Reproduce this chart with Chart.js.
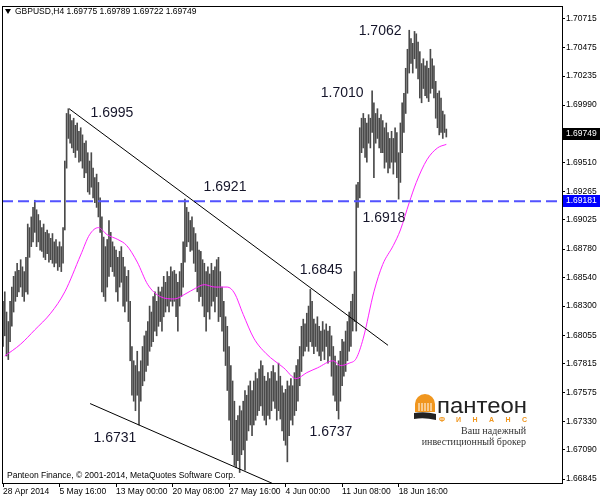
<!DOCTYPE html>
<html><head><meta charset="utf-8">
<script src="https://cdn.jsdelivr.net/npm/chart.js@4.4.1/dist/chart.umd.min.js"></script>
<style>html,body{margin:0;padding:0;background:#fff;}canvas{display:block;}</style>
</head><body>
<canvas id="c" width="600" height="499"></canvas>
<script>
// ---- DATA (GBPUSD H4) ----
const barHigh = [
1.6834,1.6842,1.6825,1.6817,1.6834,1.6846,1.6855,1.6859,1.6866,1.6860,
1.6869,1.6863,1.6859,1.6871,1.6899,1.6896,1.6905,1.6913,1.6919,1.6911,
1.6907,1.6902,1.6896,1.6899,1.6892,1.6894,1.6891,1.6887,1.6891,1.6884,
1.6886,1.6880,1.6884,1.6880,1.6896,1.6952,1.6992,1.6996,1.6991,1.6986,
1.6988,1.6982,1.6984,1.6977,1.6980,1.6974,1.6967,1.6969,1.6959,1.6952,
1.6959,1.6946,1.6938,1.6941,1.6934,1.6921,1.6905,1.6888,1.6880,1.6886,
1.6902,1.6892,1.6884,1.6880,1.6877,1.6871,1.6876,1.6880,1.6871,1.6863,
1.6855,1.6860,1.6834,1.6796,1.6784,1.6780,1.6792,1.6775,1.6784,1.6796,
1.6805,1.6809,1.6817,1.6830,1.6825,1.6838,1.6842,1.6834,1.6846,1.6842,
1.6846,1.6855,1.6850,1.6859,1.6855,1.6863,1.6859,1.6860,1.6857,1.6850,
1.6859,1.6866,1.6884,1.6920,1.6913,1.6909,1.6902,1.6905,1.6896,1.6891,
1.6884,1.6877,1.6876,1.6869,1.6866,1.6859,1.6863,1.6857,1.6866,1.6860,
1.6863,1.6869,1.6871,1.6859,1.6846,1.6834,1.6821,1.6813,1.6796,1.6780,
1.6767,1.6750,1.6734,1.6738,1.6746,1.6742,1.6750,1.6759,1.6755,1.6763,
1.6767,1.6759,1.6767,1.6774,1.6769,1.6777,1.6784,1.6780,1.6771,1.6767,
1.6774,1.6769,1.6775,1.6780,1.6774,1.6767,1.6782,1.6771,1.6763,1.6757,
1.6760,1.6767,1.6763,1.6769,1.6763,1.6774,1.6780,1.6785,1.6796,1.6813,
1.6819,1.6815,1.6824,1.6830,1.6844,1.6834,1.6819,1.6815,1.6821,1.6813,
1.6809,1.6817,1.6810,1.6815,1.6809,1.6813,1.6805,1.6796,1.6788,1.6780,
1.6784,1.6792,1.6802,1.6800,1.6809,1.6817,1.6825,1.6834,1.6840,1.6859,
1.6932,1.6934,1.6980,1.6988,1.6992,1.6988,1.6984,1.6991,1.6988,1.7011,
1.7001,1.6992,1.6996,1.6988,1.6991,1.6986,1.6980,1.6984,1.6976,1.6971,
1.6977,1.6971,1.6980,1.6976,1.6959,1.6984,1.7001,1.7009,1.7030,1.7046,
1.7062,1.7055,1.7051,1.7061,1.7059,1.7052,1.7044,1.7034,1.7038,1.7032,
1.7036,1.7030,1.7046,1.7038,1.7032,1.7019,1.7009,1.7011,1.7005,1.6994,
1.6991,1.69789];
const barLow = [
1.6796,1.6805,1.6788,1.6785,1.6800,1.6813,1.6825,1.6834,1.6838,1.6842,
1.6846,1.6838,1.6834,1.6842,1.6840,1.6871,1.6880,1.6884,1.6892,1.6880,
1.6884,1.6877,1.6876,1.6871,1.6869,1.6874,1.6867,1.6869,1.6866,1.6863,
1.6866,1.6860,1.6863,1.6859,1.6866,1.6894,1.6946,1.6971,1.6967,1.6963,
1.6959,1.6955,1.6961,1.6951,1.6952,1.6946,1.6938,1.6942,1.6926,1.6924,
1.6930,1.6921,1.6917,1.6913,1.6905,1.6892,1.6842,1.6838,1.6834,1.6846,
1.6855,1.6863,1.6859,1.6855,1.6842,1.6834,1.6846,1.6850,1.6830,1.6825,
1.6834,1.6817,1.6784,1.6755,1.6750,1.6742,1.6755,1.6730,1.6750,1.6763,
1.6767,1.6775,1.6780,1.6792,1.6796,1.6800,1.6809,1.6805,1.6813,1.6817,
1.6809,1.6821,1.6825,1.6830,1.6825,1.6834,1.6830,1.6834,1.6821,1.6809,
1.6830,1.6838,1.6846,1.6867,1.6880,1.6884,1.6876,1.6877,1.6866,1.6859,
1.6842,1.6834,1.6838,1.6830,1.6821,1.6809,1.6825,1.6819,1.6830,1.6834,
1.6825,1.6838,1.6817,1.6821,1.6809,1.6792,1.6780,1.6759,1.6734,1.6717,
1.6705,1.6696,1.6694,1.6700,1.6690,1.6705,1.6709,1.6692,1.6717,1.6725,
1.6730,1.6721,1.6730,1.6734,1.6738,1.6742,1.6746,1.6738,1.6734,1.6730,
1.6738,1.6735,1.6742,1.6750,1.6744,1.6734,1.6742,1.6735,1.6725,1.6717,
1.6713,1.6699,1.6721,1.6734,1.6730,1.6738,1.6742,1.6750,1.6763,1.6775,
1.6788,1.6792,1.6796,1.6792,1.6800,1.6796,1.6790,1.6796,1.6792,1.6788,
1.6784,1.6792,1.6785,1.6796,1.6782,1.6788,1.6771,1.6755,1.6750,1.6742,
1.6735,1.6750,1.6763,1.6771,1.6775,1.6784,1.6792,1.6796,1.6809,1.6817,
1.6809,1.6913,1.6921,1.6959,1.6963,1.6955,1.6951,1.6967,1.6963,1.6976,
1.6938,1.6967,1.6971,1.6963,1.6959,1.6959,1.6946,1.6951,1.6942,1.6946,
1.6951,1.6941,1.6951,1.6938,1.6920,1.6934,1.6959,1.6976,1.6992,1.7009,
1.7026,1.7034,1.7026,1.7038,1.7030,1.7021,1.7005,1.7001,1.7013,1.7007,
1.7005,1.7002,1.7009,1.7013,1.7005,1.6988,1.6980,1.6974,1.6976,1.6971,
1.6976,1.69722];

// moving average (magenta) read at these bar positions
const maBars = [1,10,18,27,35,44,49,54,59,65,70,76,82,89,97,103,109,114,120,127,131,136,142,149,159,166,172,178,187,191,196,200,204,210,215,221,225,230,234,240,246,251];
const maValues = [1.6788,1.6798,1.6810,1.6824,1.6842,1.6873,1.6890,1.6896,1.6890,1.6886,1.6881,1.6867,1.6848,1.6838,1.6836,1.6840,1.6845,1.6848,1.6846,1.6846,1.6841,1.6823,1.6803,1.6790,1.6778,1.6769,1.6774,1.6778,1.6784,1.6780,1.6782,1.6786,1.6803,1.6842,1.6865,1.6881,1.6894,1.6917,1.6934,1.6953,1.6963,1.6966];

const totalSlots = 316.5;          // visible bar slots incl. right shift
const xTickStep = 32;
const xTickLabels = ['28 Apr 2014','5 May 16:00','13 May 00:00','20 May 08:00','27 May 16:00','4 Jun 00:00','11 Jun 08:00','18 Jun 16:00'];
const yTickValues = [1.70715,1.70475,1.70235,1.69990,1.69510,1.69265,1.69025,1.68780,1.68540,1.68300,1.68055,1.67815,1.67575,1.67330,1.67090,1.66845];
const yMin = 1.66812, yMax = 1.70823;

const lastPrice = 1.69749;
const levelPrice = 1.69181;
const headerText = 'GBPUSD,H4 1.69775 1.69789 1.69722 1.69749';
const footerText = 'Panteon Finance, \u00A9 2001-2014, MetaQuotes Software Corp.';

const resistanceLine = [{x:37.4, y:1.6996},{x:218, y:1.6797}];
const supportLine = [{x:49.3, y:1.6748},{x:152.3, y:1.6681}];

const annotationBars   = [61.7, 125.7, 180.1, 215.7, 192.0, 213.5, 63.4, 185.7];
const annotationPrices = [1.6992, 1.6930, 1.6860, 1.6904, 1.7009, 1.7061, 1.6719, 1.6724];
const annotationTexts  = ['1.6995','1.6921','1.6845','1.6918','1.7010','1.7062','1.6731','1.6737'];

// ---- CHART ----
const FONT = '"Liberation Sans", Arial, sans-serif';

const mt4Plugin = {
  id: 'mt4',
  beforeDraw(chart) {
    const c = chart.ctx;
    c.save(); c.fillStyle = '#fff'; c.fillRect(0, 0, chart.width, chart.height); c.restore();
  },
  afterDatasetsDraw(chart) {
    const c = chart.ctx, xs = chart.scales.x, ys = chart.scales.y;
    c.save();
    c.font = '14px ' + FONT;
    c.fillStyle = '#15152a';
    c.textAlign = 'center'; c.textBaseline = 'middle';
    annotationTexts.forEach((t, i) => c.fillText(t, xs.getPixelForValue(annotationBars[i]), ys.getPixelForValue(annotationPrices[i])));
    c.restore();
  },
  afterDraw(chart) {
    const c = chart.ctx, a = chart.chartArea, ys = chart.scales.y;
    c.save();
    // frame
    c.strokeStyle = '#000'; c.lineWidth = 1;
    c.strokeRect(Math.round(a.left) + 0.5, Math.round(a.top) + 0.5, Math.round(a.right - a.left), Math.round(a.bottom - a.top));
    // header
    c.fillStyle = '#000';
    c.beginPath(); c.moveTo(a.left + 3, a.top + 3); c.lineTo(a.left + 9, a.top + 3); c.lineTo(a.left + 6, a.top + 8); c.closePath(); c.fill();
    c.font = '8.5px ' + FONT; c.textAlign = 'left'; c.textBaseline = 'middle';
    c.fillText(headerText, a.left + 13, a.top + 6);
    // footer
    c.fillText(footerText, a.left + 5, a.bottom - 7);
    // price boxes on the right axis
    const box = (v, bg) => {
      const y = Math.round(ys.getPixelForValue(v));
      c.fillStyle = bg; c.fillRect(Math.round(a.right) + 1, y - 6, chart.width - a.right, 12);
      c.fillStyle = '#fff'; c.font = '8.5px ' + FONT; c.textAlign = 'left'; c.textBaseline = 'middle';
      c.fillText(v.toFixed(5), Math.round(a.right) + 4, y);
    };
    box(lastPrice, '#000');
    box(levelPrice, '#0000ff');
    // logo
    const lx = a.right - 147, ly = a.bottom - 91;
    c.fillStyle = '#f0961e';
    c.beginPath(); c.arc(lx + 10, ly + 12, 10, Math.PI, 0); c.lineTo(lx + 20, ly + 20); c.lineTo(lx, ly + 20); c.closePath(); c.fill();
    c.strokeStyle = '#fff'; c.lineWidth = 1;
    for (let k = 0; k < 5; k++) { c.beginPath(); c.moveTo(lx + 4 + k * 3, ly + 11); c.lineTo(lx + 4 + k * 3, ly + 19); c.stroke(); }
    c.fillStyle = '#222';
    c.beginPath(); c.moveTo(lx - 1, ly + 21); c.quadraticCurveTo(lx + 10, ly + 19, lx + 21, ly + 22); c.lineTo(lx + 21, ly + 28); c.quadraticCurveTo(lx + 9, ly + 25, lx - 1, ly + 27); c.closePath(); c.fill();
    c.font = '22px ' + FONT; c.fillStyle = '#222'; c.textBaseline = 'alphabetic'; c.textAlign = 'left';
    const word = 'пантеон', ww = c.measureText(word).width;
    c.save(); c.translate(lx + 22, ly + 21); c.scale(90 / ww, 1); c.fillText(word, 0, 0); c.restore();
    c.font = 'bold 7px ' + FONT; c.fillStyle = '#f0961e'; c.textAlign = 'center';
    'ФИНАНС'.split('').forEach((ch, k) => c.fillText(ch, lx + 27 + k * 16.5, ly + 30));
    c.font = '10px "Liberation Serif", serif'; c.fillStyle = '#333'; c.textAlign = 'right';
    c.fillText('Ваш надежный', lx + 111, ly + 42);
    c.fillText('инвестиционный брокер', lx + 111, ly + 53);
    c.restore();
  }
};

new Chart(document.getElementById('c'), {
  type: 'bar',
  data: {
    datasets: [
      { type: 'line', data: [{x: -0.57, y: levelPrice}, {x: totalSlots, y: levelPrice}], borderColor: '#5252ff', borderWidth: 2, borderDash: [11, 5], pointRadius: 0, order: 1 },
      { type: 'line', data: resistanceLine, borderColor: '#000', borderWidth: 1, pointRadius: 0, order: 0 },
      { type: 'line', data: supportLine, borderColor: '#000', borderWidth: 1, pointRadius: 0, order: 0 },
      { type: 'line', data: maBars.map((b, i) => ({x: b, y: maValues[i]})), borderColor: '#ff22ff', borderWidth: 1, pointRadius: 0, cubicInterpolationMode: 'monotone', order: 2 },
      { type: 'bar', data: barHigh.map((h, i) => ({x: i, y: [barLow[i], h]})), backgroundColor: '#4a4a4a', barThickness: 1, grouped: false, order: 3 }
    ]
  },
  options: {
    responsive: false, animation: false, devicePixelRatio: 1,
    layout: { padding: { left: 2, top: 2, right: 0, bottom: 0 } },
    plugins: { legend: { display: false }, tooltip: { enabled: false } },
    scales: {
      x: {
        type: 'linear', min: -0.57, max: totalSlots, offset: false,
        grid: { drawOnChartArea: false, drawTicks: true, tickLength: 4, color: '#000', offset: false },
        border: { display: false },
        ticks: { color: '#000', font: { family: FONT, size: 8.5 }, align: 'start', padding: 0, maxRotation: 0, autoSkip: false,
                 callback: (v, i) => xTickLabels[i] },
        afterBuildTicks: s => { s.ticks = xTickLabels.map((_, k) => ({ value: k * xTickStep })); },
        afterFit: s => { s.height = 16; }
      },
      y: {
        position: 'right', min: yMin, max: yMax,
        grid: { drawOnChartArea: false, drawTicks: true, tickLength: 3, color: '#000' },
        border: { display: false },
        ticks: { color: '#000', font: { family: FONT, size: 8.5 }, padding: 1, autoSkip: false, callback: v => v.toFixed(5) },
        afterBuildTicks: s => { s.ticks = yTickValues.map(v => ({ value: v })); },
        afterFit: s => { s.width = 38; }
      }
    }
  },
  plugins: [mt4Plugin]
});
</script>
</body></html>
